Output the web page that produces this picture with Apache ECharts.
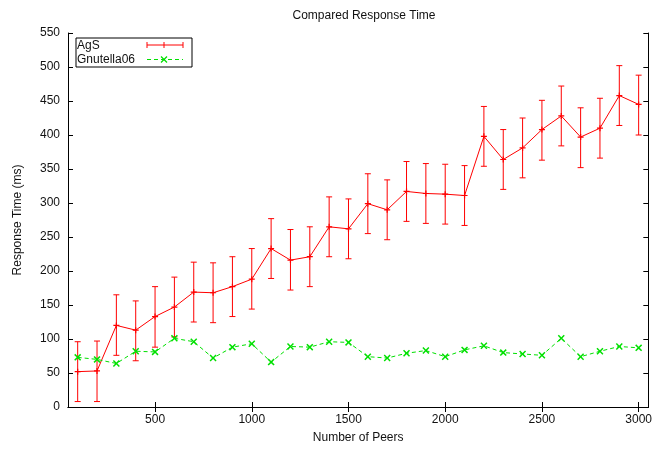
<!DOCTYPE html>
<html>
<head>
<meta charset="utf-8">
<script src="https://cdn.jsdelivr.net/npm/echarts@6/dist/echarts.min.js"></script>
<style>
html,body{margin:0;padding:0;background:#fff;}
#c{width:655px;height:449px;}
</style>
</head>
<body>
<div id="c"></div>
<script>
const peers = [100,200,300,400,500,600,700,800,900,1000,1100,1200,1300,1400,1500,1600,1700,1800,1900,2000,2100,2200,2300,2400,2500,2600,2700,2800,2900,3000];
const agsMean = [52,53,120,113,133,147,169,168,177,188,233,216,221,265,262,299,290,317,314,313,311,398,364,381,408,428,397,410,458,445];
const agsLow  = [8,8,76,68,88,103,125,124,133,144,189,172,177,221,218,255,246,273,270,269,267,354,320,337,363,384,352,366,414,400];
const agsHigh = [96,97,165,156,177,191,213,212,221,233,277,261,265,309,306,343,334,361,358,357,355,442,408,425,451,472,440,454,502,488];
const gnutella = [73,70,64,82,81,101,96,72,88,93,66,89,88,96,95,74,72,79,83,74,84,90,80,78,76,101,74,82,89,87];
const xTicks = [500,1000,1500,2000,2500,3000];

const FONT = 'Liberation Sans';
const plusPath = 'path://M4,0L6,0L6,4L10,4L10,6L6,6L6,10L4,10L4,6L0,6L0,4L4,4Z';
const xPath = 'path://M0,1.5L1.5,0L5,3.5L8.5,0L10,1.5L6.5,5L10,8.5L8.5,10L5,6.5L1.5,10L0,8.5L3.5,5Z';
const GREEN = '#00e000';

const chart = echarts.init(document.getElementById('c'), null, {renderer:'canvas'});

const errData = peers.map((p,i)=>[p, agsLow[i], agsHigh[i]]);

const axisCommon = {
  axisLine:{show:true, lineStyle:{color:'#000', width:1}},
  splitLine:{show:false}
};

chart.setOption({
  animation:false,
  backgroundColor:'#fff',
  title:{
    text:'Compared Response Time', left:359, top:5, textAlign:'center',
    textStyle:{fontFamily:FONT, fontSize:12, fontWeight:'normal', color:'#111'}
  },
  grid:{left:68, right:5, top:33, bottom:41, containLabel:false},
  xAxis:[{
    type:'value', min:50, max:3050, position:'bottom',
    name:'Number of Peers', nameLocation:'middle', nameGap:25,
    nameTextStyle:{fontFamily:FONT, fontSize:12, color:'#111'},
    ...axisCommon,
    axisTick:{show:true, inside:true, length:5, customValues:xTicks, lineStyle:{color:'#000'}},
    axisLabel:{customValues:xTicks, formatter:v=>String(v), fontFamily:FONT, fontSize:12, color:'#111', margin:7}
  },{
    type:'value', min:50, max:3050, position:'top',
    ...axisCommon,
    axisTick:{show:true, inside:true, length:5, customValues:xTicks, lineStyle:{color:'#000'}},
    axisLabel:{show:false, customValues:xTicks}
  }],
  yAxis:[{
    type:'value', min:0, max:550, interval:50, position:'left',
    name:'Response Time (ms)', nameLocation:'middle', nameGap:44, nameRotate:90,
    nameTextStyle:{fontFamily:FONT, fontSize:12, color:'#111'},
    ...axisCommon,
    axisTick:{show:true, inside:true, length:5, lineStyle:{color:'#000'}},
    axisLabel:{fontFamily:FONT, fontSize:12, color:'#111', margin:8}
  },{
    type:'value', min:0, max:550, interval:50, position:'right',
    ...axisCommon,
    axisTick:{show:true, inside:true, length:5, lineStyle:{color:'#000'}},
    axisLabel:{show:false}
  }],
  series:[
    {
      name:'AgS-err', type:'custom', xAxisIndex:0, yAxisIndex:0,
      data:errData, encode:{x:0, y:[1,2]}, z:3,
      renderItem:function(params, api){
        const x = api.value(0);
        const top = api.coord([x, api.value(2)]);
        const bot = api.coord([x, api.value(1)]);
        const w = 3;
        const st = {stroke:'#ff0000', lineWidth:1};
        return {type:'group', children:[
          {type:'line', shape:{x1:top[0], y1:top[1], x2:bot[0], y2:bot[1]}, style:st},
          {type:'line', shape:{x1:top[0]-w, y1:top[1], x2:top[0]+w, y2:top[1]}, style:st},
          {type:'line', shape:{x1:bot[0]-w, y1:bot[1], x2:bot[0]+w, y2:bot[1]}, style:st}
        ]};
      }
    },
    {
      name:'AgS', type:'line', data:peers.map((p,i)=>[p, agsMean[i]]),
      symbol:plusPath, symbolSize:6, showSymbol:true,
      lineStyle:{color:'#ff0000', width:1}, itemStyle:{color:'#ff0000'}, z:4
    },
    {
      name:'Gnutella06', type:'line', data:peers.map((p,i)=>[p, gnutella[i]]),
      symbol:xPath, symbolSize:7, showSymbol:true,
      lineStyle:{color:GREEN, width:1, type:[4,3]}, itemStyle:{color:GREEN}, z:4
    }
  ],
  graphic:[
    {type:'rect', shape:{x:76, y:38, width:116, height:29}, style:{fill:'#fff', stroke:'#000', lineWidth:1}, z:10},
    {type:'text', x:77, y:45.5, style:{text:'AgS', fontFamily:FONT, fontSize:12, fill:'#111', verticalAlign:'middle'}, z:11},
    {type:'text', x:77, y:59.5, style:{text:'Gnutella06', fontFamily:FONT, fontSize:12, fill:'#111', verticalAlign:'middle'}, z:11},
    {type:'line', shape:{x1:147, y1:45, x2:183, y2:45}, style:{stroke:'#ff0000', lineWidth:1}, z:11},
    {type:'line', shape:{x1:147, y1:42, x2:147, y2:48}, style:{stroke:'#ff0000', lineWidth:1}, z:11},
    {type:'line', shape:{x1:183, y1:42, x2:183, y2:48}, style:{stroke:'#ff0000', lineWidth:1}, z:11},
    {type:'line', shape:{x1:164, y1:42, x2:164, y2:48}, style:{stroke:'#ff0000', lineWidth:1}, z:11},
    {type:'line', shape:{x1:147, y1:59.5, x2:183, y2:59.5}, style:{stroke:GREEN, lineWidth:1, lineDash:[4,3]}, z:11},
    {type:'line', shape:{x1:161, y1:56.5, x2:167, y2:62.5}, style:{stroke:GREEN, lineWidth:1.3}, z:11},
    {type:'line', shape:{x1:167, y1:56.5, x2:161, y2:62.5}, style:{stroke:GREEN, lineWidth:1.3}, z:11}
  ]
});
</script>
</body>
</html>
